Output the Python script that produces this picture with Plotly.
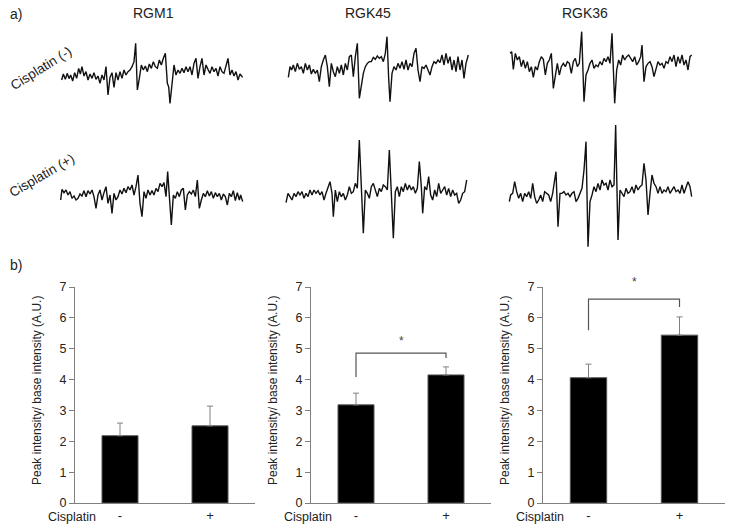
import plotly.graph_objects as go

OFF = 0  # body margin is removed through post_script below
W, H = 730 - OFF, 528 - OFF

# ---------------- bar chart data (panel b) ----------------
cell_lines = ["RGM1", "RGK45", "RGK36"]
cisplatin_ticks = ["-", "+"]
rgm1_mean = [2.18, 2.50]
rgm1_sd = [0.41, 0.64]
rgk45_mean = [3.18, 4.15]
rgk45_sd = [0.38, 0.26]
rgk36_mean = [4.06, 5.44]
rgk36_sd = [0.44, 0.59]
# significance brackets: [left leg bottom, bar height, right leg bottom, star height]
rgk45_sig = [4.08, 4.86, 4.70, 5.25]
rgk36_sig = [5.60, 6.61, 6.35, 7.16]

# ---------------- ESR spectra (panel a), (field, signal) pairs ----------------
rgm1_neg = [(185,240),(190,222),(196,238),(202,220),(207,236),(212,225),(218,243),(224,218),(230,235),(236,205),
    (241,222),(246,200),(252,228),(258,215),(264,240),(270,222),(276,235),(282,218),(288,238),(294,228),(300,250),
    (306,225),(312,240),(318,200),(324,285),(330,232),(336,218),(342,262),(348,218),(354,240),(360,215),(366,235),
    (372,210),(378,225),(384,215),(390,210),(396,200),(402,185),(407,130),(412,270),(418,235),(424,195),(430,210),
    (436,198),(442,215),(448,192),(454,205),(460,185),(466,200),(472,205),(478,180),(484,195),(490,175),(496,160),
    (502,250),(506,260),(510,310),(516,255),(522,195),(528,225),(534,210),(540,220),(546,205),(552,218),(558,200),
    (564,215),(570,200),(576,225),(582,190),(588,175),(594,235),(600,200),(606,175),(612,225),(618,195),(624,208),
    (630,220),(636,200),(642,215),(648,205),(654,228),(660,200),(666,215),(672,220),(678,195),(684,175),(690,225),
    (696,210),(702,228),(708,215),(714,240),(720,222),(728,232)]
rgm1_pos = [(182,240),(186,208),(192,218),(198,210),(204,225),(210,215),(216,235),(222,228),(228,240),(234,235),
    (240,222),(246,228),(252,212),(258,230),(264,212),(270,222),(276,210),(282,230),(288,265),(294,225),(300,210),
    (306,240),(312,218),(318,200),(324,250),(330,225),(336,280),(342,220),(348,240),(354,230),(360,210),(366,222),
    (372,205),(378,218),(384,200),(390,210),(396,195),(402,225),(408,200),(414,165),(420,250),(426,290),(432,215),
    (438,235),(444,210),(450,225),(456,212),(462,225),(468,205),(474,215),(480,190),(486,200),(492,188),(498,230),
    (503,155),(509,250),(514,315),(520,225),(526,235),(532,215),(538,230),(544,210),(550,205),(556,270),(562,225),
    (568,215),(574,222),(580,210),(586,230),(592,180),(598,265),(604,240),(610,220),(616,230),(622,212),(628,228),
    (634,215),(640,235),(646,218),(652,230),(658,220),(664,240),(670,222),(676,230),(682,255),(688,220),(694,230),
    (700,212),(706,242),(712,218),(718,240),(722,225),(728,245)]
rgk45_neg = [(55,172),(60,140),(65,150),(70,135),(76,155),(82,130),(88,148),(94,140),(100,160),(106,130),(112,150),
    (118,135),(124,162),(130,148),(136,160),(142,150),(148,185),(154,140),(160,120),(166,105),(172,140),(178,200),
    (184,130),(190,155),(196,170),(202,140),(208,160),(214,135),(220,165),(226,130),(232,150),(238,110),(244,105),
    (250,170),(256,110),(262,70),(268,235),(274,190),(280,160),(286,140),(292,130),(298,125),(304,125),(310,112),
    (316,118),(322,108),(328,115),(334,110),(340,125),(346,100),(351,50),(356,175),(360,245),(366,160),(372,140),
    (378,150),(384,130),(390,145),(396,125),(402,148),(408,120),(414,150),(420,130),(426,140),(432,100),(438,85),
    (444,150),(450,185),(456,140),(462,145),(468,135),(474,150),(480,165),(486,140),(492,125),(498,130),(504,120),
    (510,128),(516,105),(522,135),(528,100),(534,130),(540,110),(546,150),(552,120),(558,155),(564,110),(570,150),
    (576,120),(582,175),(588,130),(595,105)]
rgk45_pos = [(48,548),(54,520),(60,530),(66,540),(72,520),(78,530),(84,515),(90,525),(96,515),(102,535),(108,520),
    (114,530),(120,510),(126,525),(132,510),(138,520),(144,512),(150,525),(156,515),(162,540),(168,520),(174,500),
    (180,485),(186,520),(190,590),(196,510),(202,545),(208,515),(214,530),(220,520),(226,540),(232,525),(238,500),
    (244,520),(250,515),(256,490),(262,505),(268,360),(274,520),(280,640),(286,510),(292,520),(298,535),(304,500),
    (310,490),(316,510),(322,530),(328,505),(334,515),(340,495),(346,500),(352,510),(358,390),(364,520),(370,655),
    (376,515),(382,500),(388,530),(394,500),(400,515),(406,490),(412,510),(418,495),(424,510),(430,500),(436,520),
    (442,505),(448,425),(454,500),(458,580),(464,500),(470,510),(476,470),(482,525),(488,540),(494,510),(500,530),
    (506,490),(512,520),(518,510),(524,500),(530,525),(536,505),(542,530),(548,510),(554,525),(560,520),(566,550),
    (572,540),(578,520),(584,515),(590,480)]
rgk36_neg = [(90,100),(95,95),(100,148),(106,100),(112,120),(118,110),(124,140),(130,120),(136,145),(142,125),
    (148,155),(154,140),(160,172),(166,140),(172,150),(178,125),(184,110),(190,118),(196,165),(202,130),(208,120),
    (214,100),(220,205),(226,160),(232,130),(238,165),(244,140),(250,130),(256,140),(262,125),(268,130),(274,160),
    (280,125),(286,115),(292,140),(298,130),(305,35),(312,245),(318,165),(324,150),(330,130),(336,120),(342,145),
    (348,135),(354,140),(360,125),(366,135),(372,115),(378,125),(384,110),(390,130),(396,40),(404,250),(410,150),
    (416,120),(422,135),(428,105),(434,120),(440,110),(446,105),(452,115),(458,125),(464,110),(470,135),(476,125),
    (482,110),(486,75),(492,185),(498,140),(504,130),(510,125),(516,140),(522,170),(528,150),(534,125),(540,135),
    (546,130),(552,145),(558,125),(564,130),(570,110),(576,125),(582,105),(588,140),(594,110),(600,130),(606,105),
    (612,135),(618,120),(624,150),(630,110),(635,105)]
rgk36_pos = [(88,545),(92,525),(98,520),(104,485),(110,515),(116,535),(122,520),(128,545),(134,520),(140,530),
    (146,515),(152,535),(158,490),(164,530),(170,550),(176,540),(182,525),(188,545),(194,515),(200,520),(206,525),
    (212,545),(218,520),(224,480),(228,455),(234,620),(240,520),(246,520),(252,515),(258,525),(264,520),(270,530),
    (276,520),(282,515),(288,545),(294,535),(300,520),(306,505),(312,450),(318,365),(324,680),(330,545),(336,525),
    (342,500),(348,515),(354,490),(360,510),(366,480),(372,495),(378,490),(384,510),(390,480),(396,500),(402,495),
    (407,315),(414,660),(420,510),(426,520),(432,530),(438,505),(444,520),(450,515),(456,500),(462,520),(468,495),
    (474,510),(480,500),(486,495),(492,430),(498,480),(504,585),(510,520),(516,465),(522,490),(528,500),(534,520),
    (540,500),(546,520),(552,510),(558,515),(564,500),(570,520),(576,510),(582,500),(588,515),(594,510),(600,520),
    (606,495),(612,520),(618,500),(624,485),(630,500),(635,530)]

FONT = "Liberation Sans, Arial, sans-serif"
TXT = "#222222"
GREY = "#808080"


def px(x):
    """window pixel x -> paper fraction"""
    return (x - OFF) / W


def py(y):
    """window pixel y -> paper fraction"""
    return 1 - (y - OFF) / H


fig = go.Figure()
layout = dict(width=W, height=H, margin=dict(l=0, r=0, t=0, b=0, pad=0, autoexpand=False),
              paper_bgcolor="white", plot_bgcolor="white", showlegend=False,
              font=dict(family=FONT, color=TXT), template="none")
annotations = []


def note(x, y, text, size, angle=0):
    annotations.append(dict(x=px(x), y=py(y), xref="paper", yref="paper", text=text,
                            textangle=angle, showarrow=False, xanchor="center", yanchor="middle",
                            borderpad=0, font=dict(size=size, color=TXT, family=FONT)))


# ---------- bar panels ----------
bar_means = [rgm1_mean, rgk45_mean, rgk36_mean]
bar_sds = [rgm1_sd, rgk45_sd, rgk36_sd]
sigs = [None, rgk45_sig, rgk36_sig]
panel_left = [75, 311, 543]
panel_w = [180, 180, 182]
y_bottom, y_top = 503, 287
YMAX = 7

for i in range(3):
    n = "" if i == 0 else str(i + 1)
    xa, ya = "x" + n, "y" + n
    x0, x1 = panel_left[i], panel_left[i] + panel_w[i]
    layout["xaxis" + n] = dict(domain=[px(x0), min(1, px(x1))], range=[-0.5, 1.5], anchor=ya,
                               showline=True, linecolor=GREY, linewidth=1, ticks="",
                               tickvals=[0, 1], ticktext=cisplatin_ticks, showgrid=False,
                               zeroline=False, tickfont=dict(size=13, color=TXT), fixedrange=True,
                               automargin=False)
    layout["yaxis" + n] = dict(domain=[py(y_bottom), py(y_top)], range=[0, YMAX], anchor=xa,
                               showline=True, linecolor=GREY, linewidth=1, ticks="outside",
                               ticklen=5, tickcolor=GREY, dtick=1, showgrid=False, zeroline=False,
                               tickfont=dict(size=12.5, color=TXT), fixedrange=True, automargin=False)
    fig.add_trace(go.Bar(x=[0, 1], y=bar_means[i], width=0.4, xaxis=xa, yaxis=ya,
                         marker=dict(color="black", line=dict(color="#555555", width=1)),
                         error_y=dict(type="data", symmetric=False, array=bar_sds[i],
                                      arrayminus=[0, 0], color=GREY, thickness=1, width=3)))
    s = sigs[i]
    if s is not None:
        fig.add_trace(go.Scatter(x=[0, 0, 1, 1], y=[s[0], s[1], s[1], s[2]], mode="lines",
                                 line=dict(color="#555555", width=1.2), xaxis=xa, yaxis=ya,
                                 hoverinfo="skip", cliponaxis=False))
        annotations.append(dict(x=0.5, y=s[3] / YMAX, xref=xa, yref=ya + " domain", text="*",
                                showarrow=False, xanchor="center", yanchor="middle",
                                font=dict(size=12, color="#444444", family=FONT)))
    note(x0 - 38, 391, "Peak intensity/ base intensity (A.U.)", 12, -90)
    note(x0 - 3, 516.5, "Cisplatin", 12.5)

# ---------- ESR traces ----------
spectra = [rgm1_neg, rgm1_pos, rgk45_neg, rgk45_pos, rgk36_neg, rgk36_pos]
crop_origin = [(0, 0), (0, 120), (270, 20), (270, 20), (480, 20), (480, 20)]
for k, (spec, (ox, oy)) in enumerate(zip(spectra, crop_origin)):
    n = str(k + 4)
    field = [p[0] for p in spec]
    signal = [-p[1] for p in spec]
    fmin, fmax = min(field), max(field)
    smin, smax = min(signal), max(signal)
    pad = 9
    layout["xaxis" + n] = dict(domain=[px((fmin - pad) / 3 + ox), px((fmax + pad) / 3 + ox)],
                               range=[fmin - pad, fmax + pad], visible=False, anchor="y" + n,
                               fixedrange=True, automargin=False)
    layout["yaxis" + n] = dict(domain=[py((-smin + pad) / 3 + oy), py((-smax - pad) / 3 + oy)],
                               range=[smin - pad, smax + pad], visible=False, anchor="x" + n,
                               fixedrange=True, automargin=False)
    fig.add_trace(go.Scatter(x=field, y=signal, mode="lines", xaxis="x" + n, yaxis="y" + n,
                             line=dict(color="#111111", width=1.4), hoverinfo="skip"))

# ---------- texts ----------
for name, cx in zip(cell_lines, [153, 368, 585]):
    note(cx, 13, name, 14)
note(16, 14, "a)", 14)
note(16, 265, "b)", 14)
note(41, 69, "Cisplatin (-)", 13.5, -32)
note(42, 176, "Cisplatin (+)", 13.5, -30)

layout["annotations"] = annotations
fig.update_layout(**layout)
fig.write_html("out.html", config={"displayModeBar": False},
               post_script="document.body.style.margin='0';")
